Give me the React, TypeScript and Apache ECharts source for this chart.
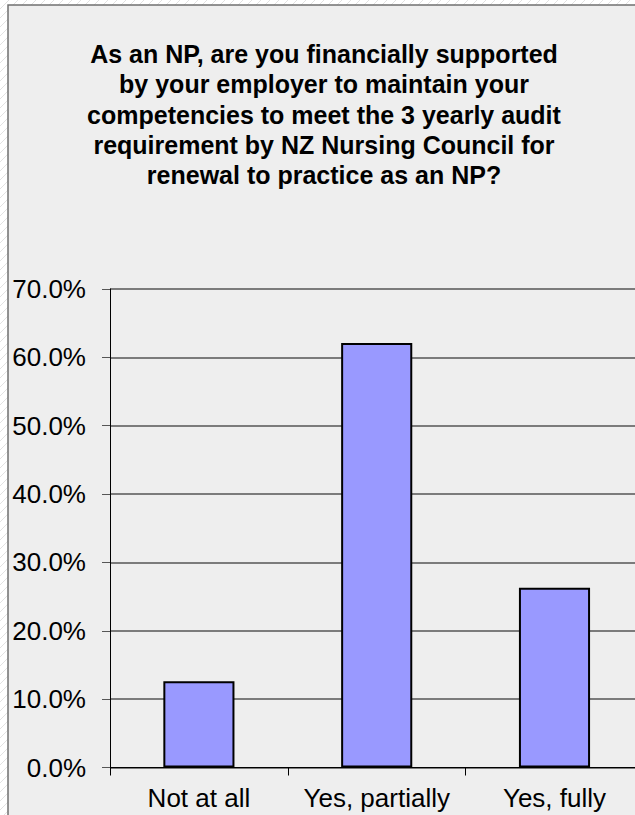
import React, { useEffect, useRef } from "react";
import * as echarts from "echarts";

const titleLines = [
  "As an NP, are you financially supported",
  "by your employer to maintain your",
  "competencies to meet the 3 yearly audit",
  "requirement by NZ Nursing Council for",
  "renewal to practice as an NP?",
];
const categories = ["Not at all", "Yes, partially", "Yes, fully"];
const percentValues = [12.6, 62.1, 26.3];
const yTicks = { min: 0, max: 70, interval: 10 };

const FONT = "'Liberation Sans', Arial, sans-serif";
const CHART_W = 680;

export default function App() {
  const ref = useRef<HTMLDivElement>(null);
  useEffect(() => {
    if (!ref.current) return;
    const chart = echarts.init(ref.current, undefined, { renderer: "svg" });
    const hatch: any[] = [];
    for (let i = -900; i < 900; i += 9) {
      hatch.push({
        type: "line",
        z: -20,
        silent: true,
        shape: { x1: i, y1: 900, x2: i + 900, y2: 0 },
        style: { stroke: "#e2e2e2", lineWidth: 1 },
      });
    }
    chart.setOption({
      animation: false,
      backgroundColor: "#ffffff",
      graphic: [
        ...hatch,
        {
          type: "rect",
          z: -10,
          silent: true,
          shape: { x: 8, y: 5, width: 800, height: 900 },
          style: { fill: "#eeeeee", stroke: "#707070", lineWidth: 1.5 },
        },
        {
          type: "text",
          z: 10,
          x: 324,
          y: 39,
          style: {
            text: titleLines.join("\n"),
            fontFamily: FONT,
            fontSize: 25,
            fontWeight: "bold",
            lineHeight: 30.3,
            fill: "#000",
            align: "center",
            verticalAlign: "top",
          },
        },
      ],
      grid: { left: 110, right: CHART_W - 643.4, top: 289, bottom: 47.5, containLabel: false },
      xAxis: {
        type: "category",
        data: categories,
        axisLine: { show: true, lineStyle: { color: "#000", width: 1 } },
        axisTick: { show: true, length: 8, alignWithLabel: false, lineStyle: { color: "#000" } },
        axisLabel: {
          interval: 0,
          margin: 17,
          color: "#000",
          fontFamily: FONT,
          fontSize: 26,
        },
        splitLine: { show: false },
      },
      yAxis: {
        type: "value",
        min: yTicks.min,
        max: yTicks.max,
        interval: yTicks.interval,
        axisLine: { show: true, lineStyle: { color: "#000", width: 1 } },
        axisTick: { show: true, length: 8, lineStyle: { color: "#555" } },
        axisLabel: {
          margin: 24,
          color: "#000",
          fontFamily: FONT,
          fontSize: 26,
          formatter: (v: number) => v.toFixed(1) + "%",
        },
        splitLine: { show: true, lineStyle: { color: "#555", width: 1.5 } },
      },
      series: [
        {
          type: "bar",
          data: percentValues,
          barWidth: "40%",
          itemStyle: { color: "#9999ff", borderColor: "#000", borderWidth: 2 },
        },
      ],
    });
    return () => chart.dispose();
  }, []);
  return (
    <div
      style={{
        position: "fixed",
        left: 0,
        top: 0,
        width: 635,
        height: 815,
        overflow: "hidden",
      }}
    >
      <div ref={ref} style={{ width: CHART_W, height: 815 }} />
    </div>
  );
}
